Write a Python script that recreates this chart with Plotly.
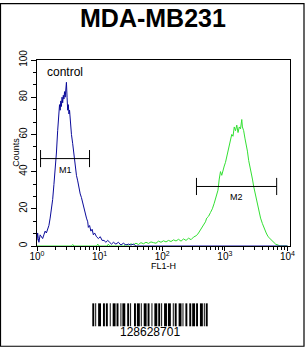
import math
import plotly.graph_objects as go

# ---------------- data ----------------
title_text = "MDA-MB231"
x_tick_vals = [1, 10, 100, 1000, 10000]
x_tick_text = ["10<sup>0</sup>", "10<sup>1</sup>", "10<sup>2</sup>", "10<sup>3</sup>", "10<sup>4</sup>"]
y_tick_vals = [0, 20, 40, 60, 80, 100]

# control histogram (log10 FL1-H, counts)
control_log = [0.00, 0.01, 0.02, 0.03, 0.05, 0.07, 0.09, 0.11, 0.13, 0.15, 0.17, 0.19, 0.21, 0.23,
               0.25, 0.27, 0.29, 0.31, 0.33, 0.35, 0.36, 0.37, 0.38, 0.39, 0.40, 0.41, 0.42, 0.43,
               0.44, 0.45, 0.46, 0.465, 0.47, 0.48, 0.49, 0.50, 0.51, 0.52, 0.53, 0.54, 0.55, 0.57,
               0.59, 0.61, 0.63, 0.65, 0.67, 0.69, 0.71, 0.73, 0.75, 0.77, 0.79, 0.81, 0.82, 0.84,
               0.86, 0.88, 0.90, 0.92, 0.95, 0.98, 1.01, 1.04, 1.07, 1.10, 1.13, 1.16, 1.19, 1.22,
               1.26, 1.30, 1.34, 1.38, 1.42, 1.46, 1.50, 1.54, 1.58, 4.00]
control_counts = [3, 7, 4, 2, 6, 5, 4, 6, 8, 7, 9, 11, 15, 19,
                  25, 33, 41, 50, 62, 70, 76, 73, 78, 75, 80, 77, 81, 79,
                  83, 80, 86, 82, 88, 80, 73, 76, 71, 73, 66, 67, 60, 55,
                  48, 43, 38, 35, 30, 28, 26, 23, 21, 18, 15, 13, 10, 11,
                  8, 9, 6, 7, 5, 4, 5, 3, 3, 2, 3, 2, 1, 2,
                  1, 2, 0.5, 1.5, 0.5, 1, 0.5, 1, 0, 0]

# antibody histogram (log10 FL1-H, counts)
sample_log = [0.00, 0.55, 0.57, 0.59, 0.95, 0.97, 0.99, 1.12, 1.14, 1.16, 1.38, 1.42, 1.46, 1.50,
              1.54, 1.58, 1.62, 1.66, 1.70, 1.74, 1.78, 1.82, 1.86, 1.90, 1.94, 1.98, 2.02, 2.06,
              2.10, 2.14, 2.18, 2.22, 2.26, 2.30, 2.34, 2.38, 2.42, 2.46, 2.50, 2.54, 2.57, 2.60,
              2.63, 2.66, 2.69, 2.71, 2.74, 2.77, 2.80, 2.83, 2.86, 2.89, 2.91, 2.93, 2.95, 2.97,
              2.99, 3.01, 3.03, 3.05, 3.07, 3.09, 3.11, 3.13, 3.15, 3.17, 3.19, 3.21, 3.23, 3.25,
              3.27, 3.28, 3.30, 3.32, 3.34, 3.36, 3.38, 3.40, 3.42, 3.44, 3.46, 3.48, 3.50, 3.52,
              3.54, 3.57, 3.60, 3.63, 3.66, 3.69, 3.72, 3.75, 3.78, 3.81, 3.85, 3.88, 4.00]
sample_counts = [0, 0, 0.8, 0, 0, 1, 0, 0, 1, 0, 0, 0.8, 0.3, 1.2,
                 0.6, 1.5, 0.8, 1.8, 1.2, 2, 1.4, 2.2, 1.8, 1.5, 2.6, 2, 2.8, 2.2,
                 3, 2.4, 3.3, 2.7, 3.6, 2.6, 3.8, 3, 4.2, 3.4, 4.8, 5.5, 6.5, 8,
                 9.5, 11, 13, 15, 16, 18, 20, 23, 26, 30, 36, 40, 38, 41,
                 43, 45, 48, 52, 55, 57, 60, 59, 64, 62, 65, 61, 64, 63,
                 68, 64, 62, 58, 55, 51, 46, 43, 40, 36, 32, 29, 25, 22,
                 19, 15, 12, 9, 7, 5, 4, 2.5, 1.5, 1, 0.5, 0, 0]

# marker gates (FL1-H range, height in counts)
m1_range = [1.14, 6.9]
m1_level = 47
m2_range = [352, 6715]
m2_level = 32
cap_half = 4.6

barcode_text = "128628701"
barcode_modules = ("1101001110011011001001110110010111001101000110111010011101100100111011"
                   "0100111011100101100111010011001101110110011101011")

# ---------------- layout geometry ----------------
W, H = 306, 349
L, R, T, B = 37, 290, 60, 246.5
pw, ph = R - L, B - T

def px(x):
    return (x - L) / pw

def py(y):
    return (B - y) / ph

fig = go.Figure()

fig.add_trace(go.Scatter(x=[10 ** v for v in sample_log], y=sample_counts, mode="lines",
                         line=dict(color="#33e033", width=1), showlegend=False, hoverinfo="skip"))
fig.add_trace(go.Scatter(x=[10 ** v for v in control_log], y=control_counts, mode="lines",
                         line=dict(color="#0a0a9a", width=1), showlegend=False, hoverinfo="skip"))

for rng, lvl, lab in [(m1_range, m1_level, "M1"), (m2_range, m2_level, "M2")]:
    a, b = rng
    fig.add_trace(go.Scatter(
        x=[a, a, None, a, b, None, b, b],
        y=[lvl - cap_half, lvl + cap_half, None, lvl, lvl, None, lvl - cap_half, lvl + cap_half],
        mode="lines", line=dict(color="black", width=1), showlegend=False, hoverinfo="skip"))
    fig.add_annotation(x=0.5 * (math.log10(a) + math.log10(b)),
                       y=lvl, xref="x", yref="y", text=lab, showarrow=False,
                       yshift=-11, font=dict(size=9, color="black", family="Liberation Sans"))

fig.update_xaxes(type="log", range=[0, 4.04], tickvals=x_tick_vals, ticktext=x_tick_text,
                 ticks="outside", ticklen=4, tickcolor="black", showgrid=False, zeroline=False,
                 showline=True, linecolor="black", linewidth=1, mirror=True, ticklabelstandoff=-3,
                 tickfont=dict(size=10, color="black", family="Liberation Sans"),
                 minor=dict(ticks="outside", ticklen=3, tickcolor="black", dtick="D1", showgrid=False))
fig.update_yaxes(range=[0, 100], tickvals=y_tick_vals, ticks="outside", ticklen=5, tickcolor="black",
                 showgrid=False, zeroline=False, showline=True, linecolor="black", linewidth=1,
                 mirror=True, tickangle=-90,
                 tickfont=dict(size=10, color="black", family="Liberation Sans"),
                 minor=dict(ticks="outside", ticklen=3, tickcolor="black", dtick=20 / 3, tick0=0,
                            showgrid=False))

annotations = [
    dict(x=px(153), y=py(18), text=title_text, font=dict(size=25, family="Liberation Sans", color="black", weight=700)),
    dict(x=px(64.5), y=py(72), text="control", font=dict(size=12, family="Liberation Sans", color="black")),
    dict(x=px(163), y=py(266.5), text="FL1-H", font=dict(size=9, family="Liberation Sans", color="black")),
    dict(x=px(16), y=py(153), text="Counts", textangle=-90, font=dict(size=9, family="Liberation Sans", color="black")),
    dict(x=px(150), y=py(332.5), text=barcode_text, font=dict(size=12, family="Liberation Sans", color="black")),
]
for a in annotations:
    fig.add_annotation(xref="paper", yref="paper", showarrow=False, xanchor="center", yanchor="middle", **a)

shapes = [dict(type="rect", xref="paper", yref="paper", x0=px(0.5), x1=px(304), y0=py(3.5), y1=py(347),
               line=dict(color="black", width=1.2), fillcolor="rgba(0,0,0,0)")]
bx0, bx1, by0, by1 = 92.3, 207.7, 304, 327
mw = (bx1 - bx0) / len(barcode_modules)
i = 0
while i < len(barcode_modules):
    if barcode_modules[i] == "1":
        j = i
        while j < len(barcode_modules) and barcode_modules[j] == "1":
            j += 1
        shapes.append(dict(type="rect", xref="paper", yref="paper", x0=px(bx0 + i * mw), x1=px(bx0 + j * mw),
                           y0=py(by0), y1=py(by1), line=dict(width=0), fillcolor="black"))
        i = j
    else:
        i += 1

fig.update_layout(width=W, height=H, autosize=False,
                  margin=dict(l=L, r=W - R, t=T, b=H - B, pad=0),
                  paper_bgcolor="white", plot_bgcolor="white", shapes=shapes,
                  font=dict(family="Liberation Sans"))

fig.write_html("out.html")
